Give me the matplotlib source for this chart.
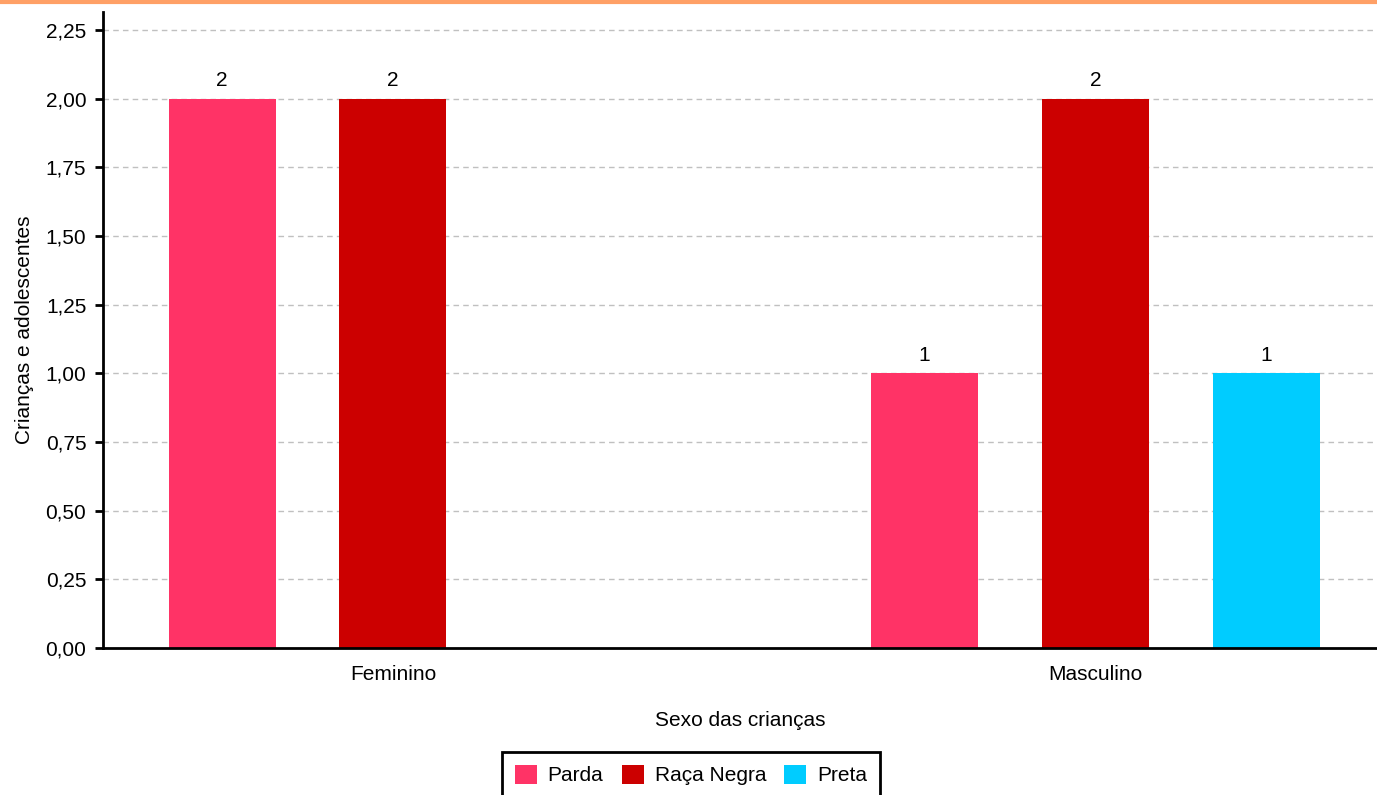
import matplotlib.pyplot as plt
import numpy as np
from matplotlib.lines import Line2D

plt.rcParams['font.family'] = ['Liberation Sans', 'DejaVu Sans']

categorias = ['Feminino', 'Masculino']
series = ['Parda', 'Raça Negra', 'Preta']
parda = [2, 1]
raca_negra = [2, 2]
preta = [np.nan, 1]
cores = ['#FF3366', '#CC0000', '#00CCFF']
yticks = [0, 0.25, 0.5, 0.75, 1.0, 1.25, 1.5, 1.75, 2.0, 2.25]

fs = 15

fig = plt.figure(figsize=(13.77, 7.95), dpi=100)
ax = fig.add_axes([103 / 1377, 1 - 648 / 795, 1 - 103 / 1377, (648 - 12) / 795])

# linha laranja no topo
fig.add_artist(Line2D([0, 1], [1 - 1.5 / 795, 1 - 1.5 / 795], color='#FFA066', lw=3, transform=fig.transFigure))

x = np.arange(len(categorias))
desloc = 0.2434
largura = 0.1523
handles = []
for i, (valores, cor) in enumerate(zip([parda, raca_negra, preta], cores)):
    pos = x + (i - 1) * desloc
    b = ax.bar(pos, valores, width=largura, color=cor, zorder=3, label=series[i])
    handles.append(b)
    for p, v in zip(pos, valores):
        if not np.isnan(v):
            ax.text(p, v + 0.03, f'{v:g}', ha='center', va='bottom', fontsize=fs)

ax.set_xlim(-0.4128, 1.4007)
ax.set_ylim(0, 2.25 + 18 / 274.7)
ax.set_yticks(yticks)
ax.set_yticklabels([f'{t:.2f}'.replace('.', ',') for t in yticks], fontsize=fs)
ax.set_xticks(x)
ax.set_xticklabels(categorias, fontsize=fs)
ax.tick_params(axis='x', length=0, pad=12)
ax.tick_params(axis='y', length=6, width=2, pad=6)
ax.grid(axis='y', linestyle=(0, (4, 3)), color='#C0C0C0', lw=1, zorder=0)

for s in ['top', 'right']:
    ax.spines[s].set_visible(False)
ax.spines['left'].set_linewidth(2)
ax.spines['bottom'].set_linewidth(2)
ax.spines['bottom'].set_zorder(4)

ax.set_ylabel('Crianças e adolescentes', fontsize=fs, labelpad=8)
ax.set_xlabel('Sexo das crianças', fontsize=fs, labelpad=20)

leg = fig.legend(handles=handles, loc='upper center', bbox_to_anchor=(691 / 1377, 1 - 752 / 795),
                 ncol=3, fontsize=fs, frameon=True, fancybox=False, framealpha=1,
                 handlelength=1.06, handleheight=1.06,
                 columnspacing=0.87, handletextpad=0.53, borderpad=0.6, borderaxespad=0)
leg.get_frame().set_edgecolor('black')
leg.get_frame().set_linewidth(2)

fig.savefig('out.png', dpi=100)
